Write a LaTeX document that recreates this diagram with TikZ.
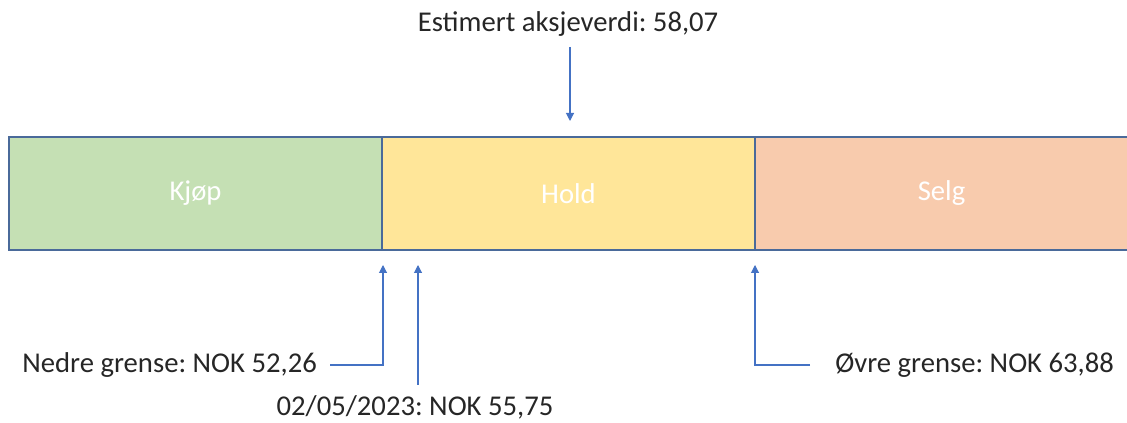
\documentclass[tikz,border=0pt]{standalone}
\usepackage{fontspec}
\setmainfont{Carlito}
\usetikzlibrary{arrows.meta}
\definecolor{kgreen}{HTML}{C5E0B4}
\definecolor{hyellow}{HTML}{FFE699}
\definecolor{sorange}{HTML}{F8CBAD}
\definecolor{edgeblue}{HTML}{4A6A9A}
\definecolor{arrblue}{HTML}{4472C4}
\frenchspacing
\begin{document}
\begin{tikzpicture}[x=0.75pt,y=-0.75pt,
  zone/.style={draw=edgeblue,line width=0.8pt,minimum width=279.75pt,minimum height=84.75pt,inner sep=0pt,text=white,font=\fontsize{21.5}{24}\selectfont},
  lbl/.style={inner sep=0pt,font=\fontsize{21.5}{24}\selectfont,text=black!85},
  conn/.style={draw=arrblue,line width=0.8pt,-{Triangle[length=6pt,width=6pt]}}]
\useasboundingbox (0,0) rectangle (1127,423);
\node[zone,fill=kgreen] (kjop) at (195.5,193.5) {Kjøp};
\node[zone,fill=hyellow] (hold) at (568.5,193.5) {Hold};
\node[zone,fill=sorange] (selg) at (941.5,193.5) {Selg};
\node[lbl] (est) at (568,24) {Estimert aksjeverdi: 58,07};
\node[lbl,anchor=east] (nedre) at (317,365) {Nedre grense: NOK 52,26};
\node[lbl] (dato) at (415,407) {02/05/2023: NOK 55,75};
\node[lbl,anchor=west] (ovre) at (835,365) {Øvre grense: NOK 63,88};
\coordinate (esttip) at (570,121);
\coordinate (esttail) at (570,47);
\coordinate (ntip) at (383,265);
\coordinate (ncorner) at (383,365);
\coordinate (ntail) at (330,365);
\coordinate (dtip) at (418,265);
\coordinate (dtail) at (418,385);
\coordinate (otip) at (755,265);
\coordinate (ocorner) at (755,365);
\coordinate (otail) at (810,365);
\draw[conn] (esttail) -- (esttip);
\draw[conn] (ntail) -- (ncorner) -- (ntip);
\draw[conn] (dtail) -- (dtip);
\draw[conn] (otail) -- (ocorner) -- (otip);
\end{tikzpicture}
\end{document}
